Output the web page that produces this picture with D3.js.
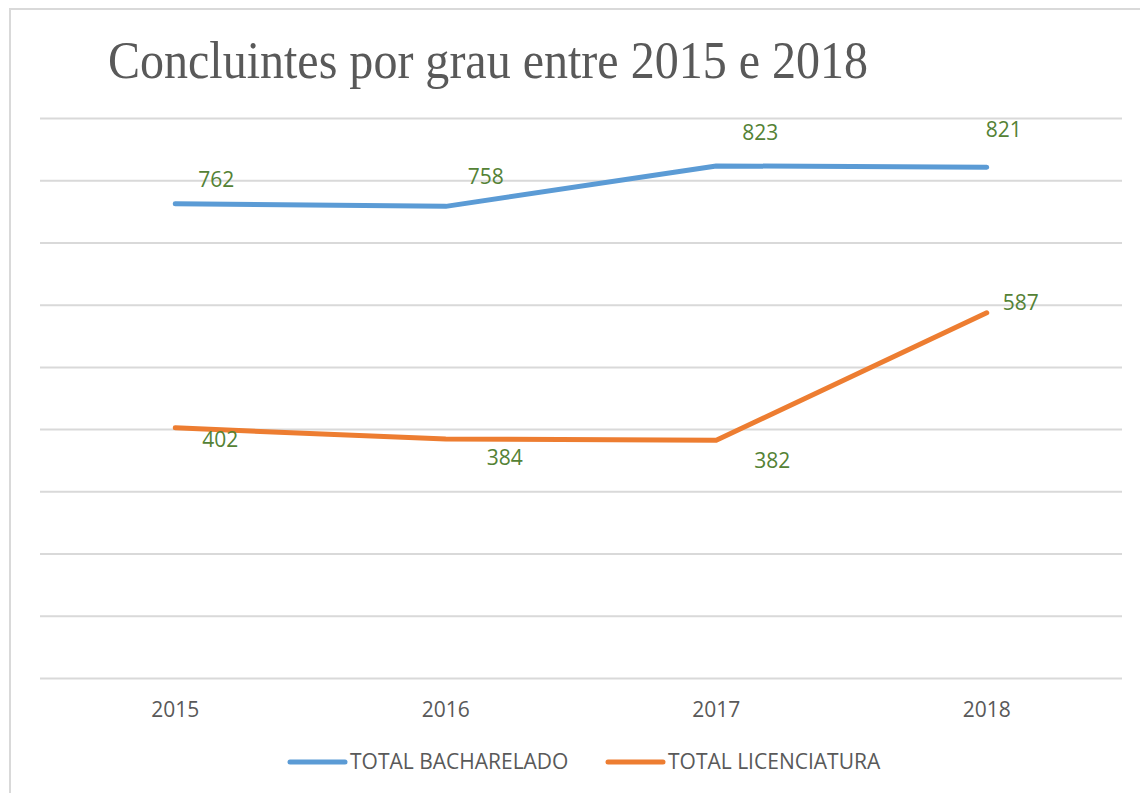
<!DOCTYPE html>
<html>
<head>
<meta charset="utf-8">
<script src="https://cdn.jsdelivr.net/npm/d3@7"></script>
<style>
  body { margin: 0; background: #fff; }
  svg { display: block; }
</style>
</head>
<body>
<div id="chart"></div>
<script>
// chart data
var years = ["2015", "2016", "2017", "2018"];
var bacharelado = [762, 758, 823, 821];
var licenciatura = [402, 384, 382, 587];
var seriesNames = ["TOTAL BACHARELADO", "TOTAL LICENCIATURA"];
var yTicks = [0, 100, 200, 300, 400, 500, 600, 700, 800, 900];

// label nudges (px) as placed in the original chart
var labelOffsets = [
  [[41, -24], [40, -30], [44, -33], [17, -38]],
  [[45, 12], [59, 19], [56, 20], [34, -10]]
];

var colors = ["#5B9BD5", "#ED7D31"];

var width = 1140, height = 793;
var margin = {top: 118, right: 18, bottom: 115, left: 40};

var svg = d3.select("#chart").append("svg")
    .attr("width", width)
    .attr("height", height);

// outer chart frame
svg.append("rect")
    .attr("x", 10).attr("y", 9)
    .attr("width", 1160).attr("height", 820)
    .attr("fill", "none")
    .attr("stroke", "#D9D9D9")
    .attr("stroke-width", 2);

// title (original is a bit condensed)
svg.append("text")
    .attr("x", 108).attr("y", 78)
    .attr("font-family", "'Liberation Serif', 'Times New Roman', serif")
    .attr("font-size", 53)
    .attr("fill", "#595959")
    .attr("textLength", 760)
    .attr("lengthAdjust", "spacingAndGlyphs")
    .text("Concluintes por grau entre 2015 e 2018");

var x = d3.scaleBand()
    .domain(years)
    .range([margin.left, width - margin.right]);

var y = d3.scaleLinear()
    .domain([0, 900])
    .range([height - margin.bottom, margin.top]);

// gridlines
svg.append("g")
    .attr("transform", "translate(" + margin.left + ",0)")
    .call(d3.axisLeft(y).tickValues(yTicks).tickSize(-(width - margin.left - margin.right)).tickFormat(""))
    .call(function(g) { g.select(".domain").remove(); })
    .selectAll("line")
    .attr("stroke", "#D9D9D9")
    .attr("stroke-width", 2);

// x axis labels
var xAxis = svg.append("g")
    .attr("transform", "translate(0," + (height - margin.bottom) + ")")
    .call(d3.axisBottom(x).tickSize(0).tickPadding(24));
xAxis.select(".domain").remove();
xAxis.selectAll("text")
    .attr("font-family", "'Open Sans', sans-serif")
    .attr("font-size", 21)
    .attr("fill", "#595959");

var line = d3.line()
    .x(function(d, i) { return x(years[i]) + x.bandwidth() / 2; })
    .y(function(d) { return y(d); });

var allSeries = [bacharelado, licenciatura];

allSeries.forEach(function(values, s) {
  svg.append("path")
      .datum(values)
      .attr("d", line)
      .attr("fill", "none")
      .attr("stroke", colors[s])
      .attr("stroke-width", 5)
      .attr("stroke-linecap", "round")
      .attr("stroke-linejoin", "round");

  svg.append("g").selectAll("text")
      .data(values)
      .join("text")
      .attr("x", function(d, i) { return x(years[i]) + x.bandwidth() / 2 + labelOffsets[s][i][0]; })
      .attr("y", function(d, i) { return y(d) + labelOffsets[s][i][1]; })
      .attr("dy", "0.35em")
      .attr("text-anchor", "middle")
      .attr("font-family", "'Open Sans', sans-serif")
      .attr("font-size", 21)
      .attr("fill", "#548235")
      .text(function(d) { return d; });
});

// legend
var legendX = [290, 608];
var legend = svg.append("g").selectAll("g")
    .data(seriesNames)
    .join("g")
    .attr("transform", function(d, i) { return "translate(" + legendX[i] + ",762)"; });

legend.append("line")
    .attr("x1", 0).attr("x2", 55)
    .attr("stroke", function(d, i) { return colors[i]; })
    .attr("stroke-width", 5)
    .attr("stroke-linecap", "round");

legend.append("text")
    .attr("x", 60)
    .attr("dy", "0.35em")
    .attr("font-family", "'Open Sans', sans-serif")
    .attr("font-size", 21)
    .attr("fill", "#595959")
    .text(function(d) { return d; });
</script>
</body>
</html>
